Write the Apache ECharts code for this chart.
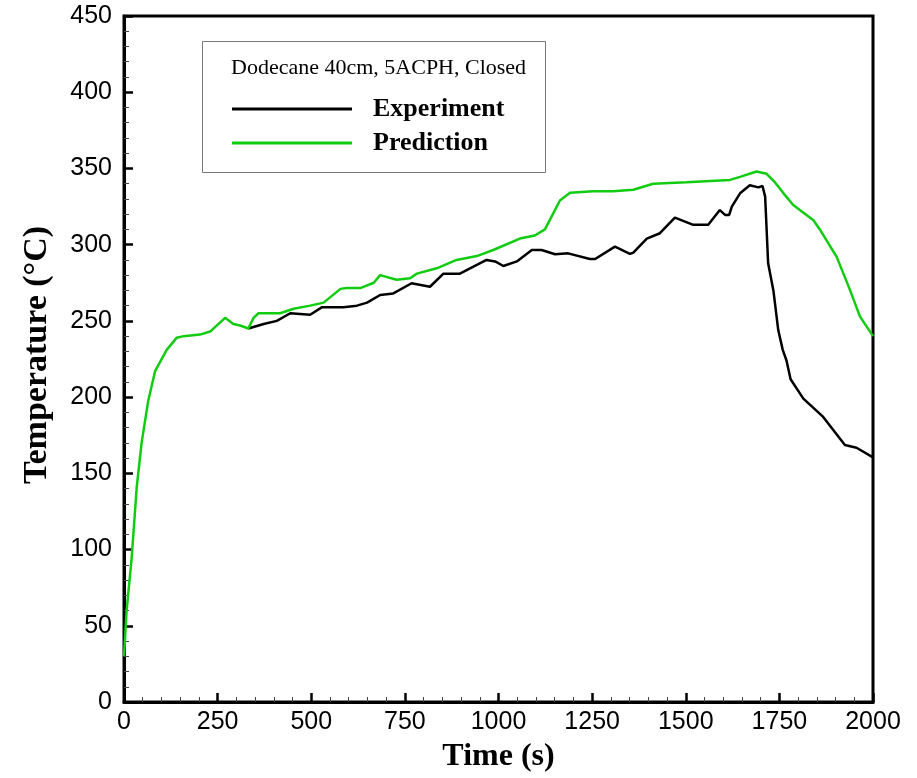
<!DOCTYPE html>
<html>
<head>
<meta charset="utf-8">
<script src="https://cdn.jsdelivr.net/npm/echarts@6/dist/echarts.min.js"></script>
<style>
	html, body { margin: 0; padding: 0; background: #fff; }
	#chart { width: 917px; height: 778px; }
</style>
</head>
<body>
<div id="chart"></div>
<script>
	// Experiment (black)
	var expTime = [332, 373, 408, 444, 497, 529, 586, 622, 649, 684, 719, 768, 817, 853, 897, 933, 968, 991, 1013, 1049,
		1089, 1115, 1151, 1186, 1244, 1258, 1311, 1351, 1360, 1396, 1431, 1471, 1520, 1560, 1591, 1605, 1616, 1623, 1645, 1671,
		1694, 1705, 1712, 1720, 1734, 1747, 1759, 1769, 1780, 1814, 1867, 1925, 1956, 2000];
	var expTemp = [245, 248, 250, 255, 254, 259, 259, 260, 262, 267, 268, 274.7, 272.4, 281, 281, 285.6, 290, 289, 286, 289,
		296.5, 296.5, 293.7, 294.3, 290.6, 290.6, 298.7, 294, 294.8, 304, 307.5, 317.7, 313, 313, 322.7, 319.5, 319.5, 325, 333.7, 339,
		337.6, 338.5, 331.5, 287.8, 270, 244, 231, 224, 211.7, 199, 187, 168.6, 166.8, 160.5];

	// Prediction (green)
	var predTime = [0, 7, 20, 34, 47, 65, 83, 114, 141, 159, 203, 230, 270, 292, 310, 332, 346, 359, 417, 453,
		497, 533, 578, 595, 631, 667, 684, 728, 764, 782, 835, 888, 942, 986, 1057, 1097, 1124, 1164, 1191, 1253,
		1306, 1360, 1413, 1502, 1618, 1645, 1689, 1716, 1738, 1760, 1787, 1841, 1858, 1903, 1939, 1965, 2000];
	var predTemp = [30, 60, 93, 141, 170, 198, 217, 231, 239, 240, 241, 243, 252, 248, 247, 245, 252, 255, 255, 258,
		260, 262, 271, 271.5, 271.5, 275, 280, 277, 278, 281, 284.5, 290, 292.5, 296.5, 304, 306, 310, 329, 334, 335,
		335, 336, 340, 341, 342.5, 344.5, 348, 346.5, 341, 334, 326, 316, 310, 292, 270, 253, 240];

	var legendTitle = 'Dodecane 40cm, 5ACPH, Closed';
	var seriesNames = ['Experiment', 'Prediction'];

	function pairs(xs, ys) {
		return xs.map(function (x, i) { return [x, ys[i]]; });
	}

	var myChart = echarts.init(document.getElementById('chart'), null, { renderer: 'canvas' });
	var tickFont = { color: '#000', fontFamily: 'Liberation Sans', fontSize: 25, formatter: function (v) { return String(v); } };

	var option = {
		animation: false,
		backgroundColor: '#fff',
		grid: {
			left: 124, right: 44, top: 16, bottom: 76,
			show: true, borderColor: '#000', borderWidth: 3, backgroundColor: 'transparent'
		},
		legend: {
			orient: 'vertical',
			left: 232, top: 96, padding: 0,
			itemWidth: 120, itemHeight: 3, itemGap: 8,
			icon: 'rect',
			textStyle: {
				color: '#000', fontFamily: 'Liberation Serif', fontWeight: 'bold', fontSize: 26,
				padding: [0, 0, 0, 16]
			},
			data: seriesNames
		},
		graphic: [
			{
				type: 'rect', left: 202, top: 41, z: 10,
				shape: { width: 343, height: 131 },
				style: { fill: 'rgba(0,0,0,0)', stroke: '#777', lineWidth: 1 }
			},
			{
				type: 'text', left: 231, top: 57, z: 10,
				style: { text: legendTitle, fill: '#000', font: '22px "Liberation Serif"' }
			}
		],
		xAxis: {
			type: 'value', min: 0, max: 2000, interval: 250,
			name: 'Time (s)', nameLocation: 'middle', nameGap: 39,
			nameTextStyle: { color: '#000', fontFamily: 'Liberation Serif', fontWeight: 'bold', fontSize: 32 },
			axisLine: { lineStyle: { color: '#000', width: 3 } },
			axisTick: { inside: true, length: 9, lineStyle: { color: '#000', width: 2.5 } },
			minorTick: { show: true, splitNumber: 5, length: 5, lineStyle: { color: '#444', width: 1 } },
			axisLabel: Object.assign({ margin: 8 }, tickFont),
			splitLine: { show: false }
		},
		yAxis: {
			type: 'value', min: 0, max: 450, interval: 50,
			name: 'Temperature (\u00B0C)', nameLocation: 'middle', nameGap: 70,
			nameTextStyle: { color: '#000', fontFamily: 'Liberation Serif', fontWeight: 'bold', fontSize: 34, padding: [0, 0, 0, 8] },
			axisLine: { lineStyle: { color: '#000', width: 3 } },
			axisTick: { inside: true, length: 9, lineStyle: { color: '#000', width: 2.5 } },
			minorTick: { show: true, splitNumber: 5, length: 5, lineStyle: { color: '#444', width: 1 } },
			axisLabel: Object.assign({ margin: 12 }, tickFont),
			splitLine: { show: false }
		},
		series: [
			{
				name: seriesNames[0], type: 'line', showSymbol: false, symbol: 'none',
				color: '#000',
				lineStyle: { color: '#000', width: 2.5 },
				data: pairs(expTime, expTemp)
			},
			{
				name: seriesNames[1], type: 'line', showSymbol: false, symbol: 'none',
				color: '#11cc11',
				lineStyle: { color: '#11cc11', width: 2.5 },
				data: pairs(predTime, predTemp)
			}
		]
	};
	myChart.setOption(option);
</script>
</body>
</html>
